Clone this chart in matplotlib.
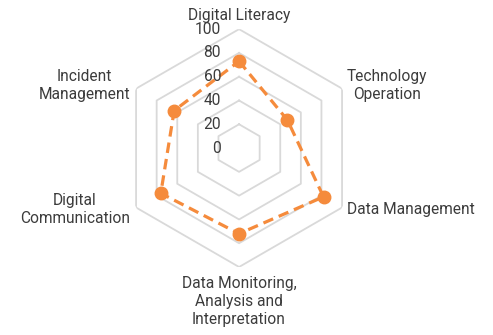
import matplotlib.pyplot as plt
import numpy as np

plt.rcParams['font.family'] = ['Roboto', 'DejaVu Sans']

categories = ['Digital Literacy', 'Technology\nOperation', 'Data Management',
              'Data Monitoring,\nAnalysis and\nInterpretation', 'Digital\nCommunication',
              'Incident\nManagement']
scores = [73, 47, 82, 72, 76, 63]
ticks = [0, 20, 40, 60, 80, 100]

orange = '#f58b3c'
grey = '#d9d9d9'
txt = '#3c3c3c'

n = len(categories)
angles = np.linspace(0, 2 * np.pi, n, endpoint=False)
closed = np.append(angles, angles[0])

fig = plt.figure(figsize=(4.93, 3.35), dpi=100)
ax = fig.add_axes([0.2434, 0.203, 0.483, 0.710], projection='polar')
ax.set_theta_zero_location('N')
ax.set_theta_direction(-1)
ax.set_ylim(0, 100)
ax.grid(False)
ax.spines['polar'].set_visible(False)
ax.set_xticks([])
ax.set_yticks([])

# hexagon grid
for t in ticks[1:]:
    ax.plot(closed, [t] * (n + 1), color=grey, lw=1.3, zorder=1)

vals = scores + scores[:1]
ax.plot(closed, vals, color=orange, lw=2.3, linestyle=(0, (3.3, 1.9)), zorder=2)
ax.plot(angles, scores, 'o', color=orange, markersize=9, zorder=3)

# radial tick labels
for t in ticks:
    ax.annotate(str(t), (0, t), xytext=(-18, 0), textcoords='offset pixels',
                ha='right', va='center', fontsize=11.2, color=txt, zorder=4,
                annotation_clip=False)

# category labels
offs = [(0, 6, 'center', 'bottom'), (5, 3, 'left', 'center'), (5, -2, 'left', 'center'),
        (0, -9, 'center', 'top'), (-6, -2, 'right', 'center'), (-6, 3, 'right', 'center')]
for a, lab, (dx, dy, ha, va) in zip(angles, categories, offs):
    ax.annotate(lab, (a, 100), xytext=(dx, dy), textcoords='offset pixels',
                ha=ha, va=va, multialignment='center', fontsize=11.2, color=txt,
                linespacing=1.24, annotation_clip=False)

fig.savefig('out.png', dpi=100)
